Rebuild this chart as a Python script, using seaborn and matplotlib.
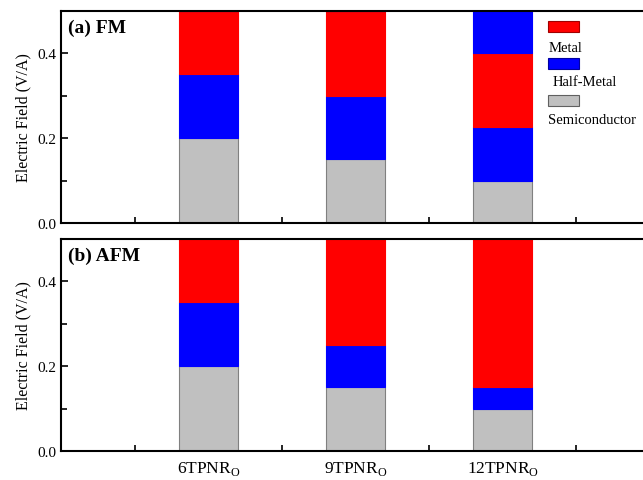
import matplotlib
matplotlib.use("Agg")
import matplotlib.pyplot as plt
from matplotlib.patches import Rectangle
from matplotlib.ticker import MultipleLocator, FixedLocator
import seaborn as sns
import pandas as pd
import numpy as np

sns.set_style("ticks")
plt.rcParams["font.family"] = ["Liberation Serif", "DejaVu Serif"]
plt.rcParams["mathtext.fontset"] = "custom"
plt.rcParams["mathtext.rm"] = "Liberation Serif"
for key in ["text.color", "axes.labelcolor", "xtick.color", "ytick.color",
            "axes.edgecolor"]:
    plt.rcParams[key] = "black"

categories = ["6TPNR$_{\\rm O}$", "9TPNR$_{\\rm O}$", "12TPNR$_{\\rm O}$"]

# FM: stacked segments from bottom to top (field ranges in V/A)
fm_semi = [0.20, 0.15, 0.10]
fm_half = [0.15, 0.15, 0.125]
fm_metal = [0.15, 0.20, 0.175]
fm_half_top = [0.0, 0.0, 0.10]

# AFM
afm_semi = [0.20, 0.15, 0.10]
afm_half = [0.15, 0.10, 0.05]
afm_metal = [0.15, 0.25, 0.35]

RED, BLUE, GRAY = "#ff0000", "#0000ff", "#c0c0c0"

fig = plt.figure(figsize=(6.43, 4.81), dpi=100)
ax_top = fig.add_axes([0.095, 0.534, 0.916, 0.442])
ax_bot = fig.add_axes([0.095, 0.060, 0.916, 0.442])


def stacked(ax, segments):
    bottom = np.zeros(len(categories))
    for vals, color, edge in segments:
        df = pd.DataFrame({"cat": categories, "val": vals})
        sns.barplot(data=df, x="cat", y="val", ax=ax, color=color,
                    saturation=1, width=0.4, bottom=bottom.copy(),
                    edgecolor=edge, linewidth=0.8)
        bottom = bottom + np.asarray(vals)


stacked(ax_top, [(fm_semi, GRAY, "#808080"), (fm_half, BLUE, BLUE),
                 (fm_metal, RED, RED), (fm_half_top, BLUE, BLUE)])
stacked(ax_bot, [(afm_semi, GRAY, "#808080"), (afm_half, BLUE, BLUE),
                 (afm_metal, RED, RED)])

for ax, label in [(ax_top, "(a) FM"), (ax_bot, "(b) AFM")]:
    ax.set_xlim(-1, 3)
    ax.set_ylim(0, 0.5)
    ax.yaxis.set_major_locator(MultipleLocator(0.2))
    ax.yaxis.set_minor_locator(MultipleLocator(0.1))
    ax.xaxis.set_minor_locator(FixedLocator([-0.5, 0.5, 1.5, 2.5]))
    ax.tick_params(which="both", direction="in", width=1.2, labelsize=11,
                   top=False, right=False)
    ax.tick_params(which="major", length=5)
    ax.tick_params(which="minor", length=4)
    ax.tick_params(axis="x", labelsize=12.5, pad=6)
    for s in ax.spines.values():
        s.set_linewidth(1.5)
    ax.set_xlabel("")
    ax.set_ylabel("Electric Field (V/A)", fontsize=11.5)
    ax.text(0.011, 0.96, label, transform=ax.transAxes, fontsize=14,
            fontweight="bold", va="top", ha="left")

ax_top.tick_params(axis="x", labelbottom=False)

# legend: swatch above each label
legend_items = [("Metal", RED, "#a00000", 0.897, 0.825, 0.827),
                ("Half-Metal", BLUE, "#0000a0", 0.724, 0.668, 0.834),
                ("Semiconductor", GRAY, "#606060", 0.550, 0.489, 0.827)]
for name, color, edge, ysw, ytx, xtx in legend_items:
    ax_top.add_patch(Rectangle((0.827, ysw), 0.053, 0.055,
                               transform=ax_top.transAxes, facecolor=color,
                               edgecolor=edge, linewidth=0.8, clip_on=False))
    ax_top.text(xtx, ytx, name, transform=ax_top.transAxes, fontsize=10.5,
                va="center", ha="left")

fig.savefig("out.png", dpi=100)
